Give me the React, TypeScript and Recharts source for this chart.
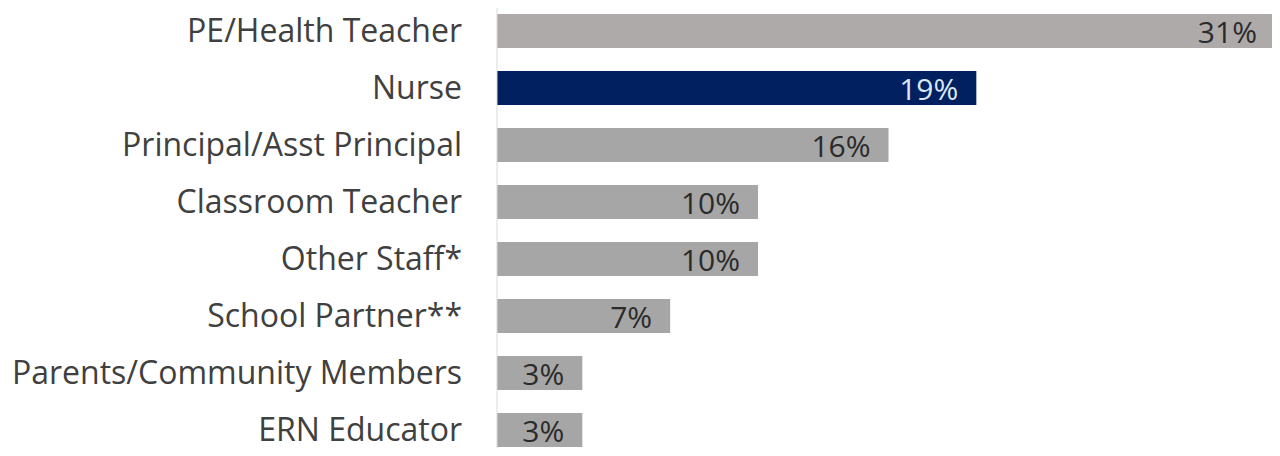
import React from 'react';
import { BarChart, Bar, XAxis, YAxis, Cell, LabelList } from 'recharts';

const roles = [
  'PE/Health Teacher',
  'Nurse',
  'Principal/Asst Principal',
  'Classroom Teacher',
  'Other Staff*',
  'School Partner**',
  'Parents/Community Members',
  'ERN Educator',
];
const shares = [31.0, 19.1, 15.6, 10.4, 10.4, 6.9, 3.4, 3.4];
const highlighted = 'Nurse';

const data = roles.map((role, i) => ({ role, share: shares[i] }));

const FONT = '"Open Sans", sans-serif';

const barColor = (role: string, i: number) => {
  if (role === highlighted) return '#002060';
  return i === 0 ? '#aeaaaa' : '#a6a6a6';
};

const BarLabel = (props: any) => {
  const { x, y, width, height, value, index } = props;
  const isHighlight = roles[index] === highlighted;
  return (
    <text
      x={x + width - 18}
      y={y + height / 2}
      textAnchor="end"
      dominantBaseline="central"
      fill={isHighlight ? '#dce6f4' : '#2b2b2b'}
      fontFamily={FONT}
      fontSize={30}
    >
      {`${Math.round(value)}%`}
    </text>
  );
};

const App: React.FC = () => {
  return (
    <div style={{ margin: -8, width: 1280, height: 456, overflow: 'hidden', background: '#ffffff' }}>
      <BarChart
        width={1280}
        height={460}
        data={data}
        layout="vertical"
        margin={{ top: 2, right: 0, bottom: 2, left: 0 }}
        barSize={34}
      >
        <XAxis type="number" domain={[0, 31.2]} hide />
        <YAxis
          type="category"
          dataKey="role"
          width={497}
          tickLine={false}
          tickSize={0}
          tickMargin={35}
          axisLine={{ stroke: '#d9d9d9', strokeWidth: 1 }}
          tick={{ fill: '#404040', fontSize: 32, fontFamily: FONT }}
          interval={0}
        />
        <Bar dataKey="share" isAnimationActive={false}>
          {data.map((d, i) => (
            <Cell key={d.role} fill={barColor(d.role, i)} />
          ))}
          <LabelList dataKey="share" content={<BarLabel />} />
        </Bar>
      </BarChart>
    </div>
  );
};

export default App;
